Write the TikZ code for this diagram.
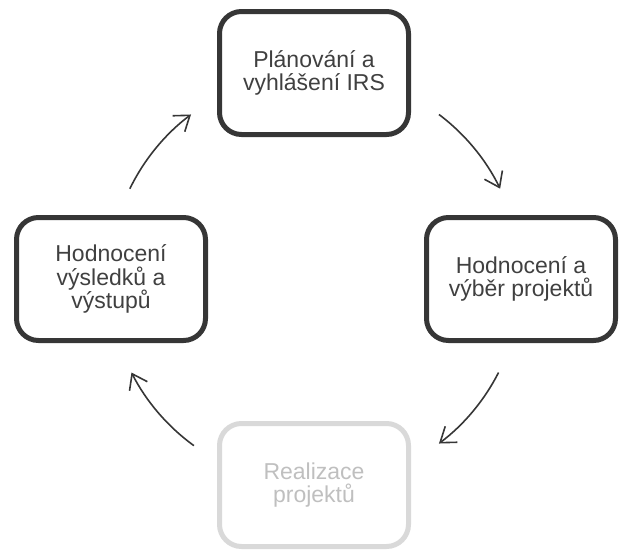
\documentclass[tikz,border=0pt]{standalone}
\usepackage{fontspec}
\setmainfont{Liberation Sans}
\usetikzlibrary{arrows.meta}
\definecolor{boxdark}{HTML}{363636}
\definecolor{txtdark}{HTML}{404040}
\definecolor{boxlight}{HTML}{D9D9D9}
\definecolor{txtlight}{HTML}{BFBFBF}
\tikzset{
  stagebox/.style={draw=boxdark, line width=5pt, rounded corners=22pt, minimum width=189pt, minimum height=123pt,
    align=center, text=txtdark, font=\fontsize{23}{23.5}\selectfont, inner sep=0pt},
  fadedbox/.style={stagebox, draw=boxlight, text=txtlight},
  cyc/.style={draw=boxdark, line width=1.6pt, -{Straight Barb[length=14pt,width=20pt,line width=1.6pt]}}
}
\begin{document}
\begin{tikzpicture}[x=1pt,y=-1pt]
\useasboundingbox (0,0) rectangle (619,550);
\coordinate (c) at (315,279);
\node[stagebox] (top) at (314,73) {Plánování a\\vyhlášení IRS};
\node[stagebox] (right) at (521,279) {Hodnocení a\\výběr projektů};
\node[fadedbox] (bottom) at (314,485) {Realizace\\projektů};
\node[stagebox] (left) at (111,279) {Hodnocení\\výsledků a\\výstupů};
\draw[cyc] (c) ++(-53:206) arc[start angle=-53, end angle=-26, radius=206];
\draw[cyc] (c) ++(27:206) arc[start angle=27, end angle=53, radius=206];
\draw[cyc] (c) ++(126:206) arc[start angle=126, end angle=153, radius=206];
\draw[cyc] (c) ++(206:206) arc[start angle=206, end angle=233, radius=206];
\end{tikzpicture}
\end{document}
